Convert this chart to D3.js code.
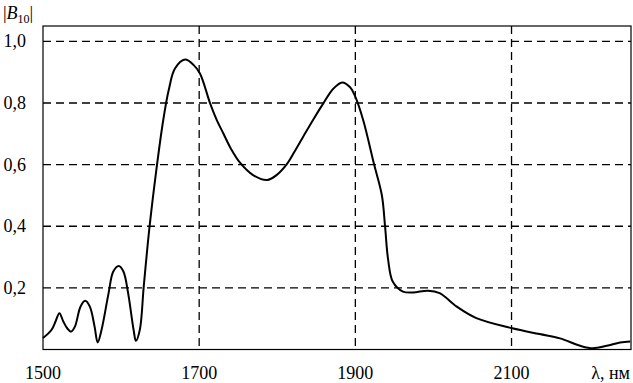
<!DOCTYPE html>
<html><head><meta charset="utf-8">
<script src="https://cdn.jsdelivr.net/npm/d3@7"></script>
<style>
html,body{margin:0;padding:0;background:#fff;}
</style></head>
<body>
<svg id="c" width="633" height="383"></svg>
<script>
const wavelength = [1500,1511,1516,1521,1526,1531,1536,1541,1548,1554,1560,1566,1570,1575,1584,1590,1597,1603,1609,1616,1619,1624,1629,1636,1645,1654,1661,1669,1682,1693,1701,1714,1722,1731,1741,1752,1769,1787,1799,1812,1822,1833,1846,1859,1872,1883,1893,1900,1910,1924,1934,1938,1942,1948,1961,1974,1993,2008,2030,2055,2101,2136,2162,2188,2204,2222,2239,2252];
const amplitude  = [0.037,0.064,0.091,0.118,0.091,0.069,0.058,0.075,0.139,0.158,0.139,0.075,0.023,0.064,0.183,0.253,0.271,0.253,0.183,0.064,0.028,0.064,0.204,0.388,0.58,0.745,0.842,0.912,0.941,0.923,0.896,0.799,0.748,0.701,0.650,0.607,0.566,0.550,0.566,0.601,0.642,0.690,0.746,0.799,0.847,0.867,0.852,0.820,0.745,0.601,0.500,0.401,0.291,0.220,0.188,0.185,0.191,0.183,0.139,0.102,0.069,0.050,0.036,0.012,0.004,0.012,0.023,0.026];
const xTicks = [1500,1700,1900,2100];
const xTickLabels = ["1500","1700","1900","2100"];
const yTicks = [0.2,0.4,0.6,0.8,1.0];
const yTickLabels = ["0,2","0,4","0,6","0,8","1,0"];
const xGrid = [1700,1900,2100];
const FONT = '"Liberation Serif"';

const svg = d3.select("#c");
const L=43, R=631, T=26, B=349.5;
const x = d3.scaleLinear().domain([1500,2253]).range([L,R]);
const y = d3.scaleLinear().domain([0,1.05]).range([B,T]);

svg.append("g").selectAll("line").data(yTicks).join("line")
  .attr("x1",L).attr("x2",R).attr("y1",d=>y(d)).attr("y2",d=>y(d))
  .attr("stroke","#000").attr("stroke-width",1.3).attr("stroke-dasharray","8,5");
svg.append("g").selectAll("line").data(xGrid).join("line")
  .attr("x1",d=>x(d)).attr("x2",d=>x(d)).attr("y1",T).attr("y2",B)
  .attr("stroke","#000").attr("stroke-width",1.3).attr("stroke-dasharray","8,5");

svg.append("rect").attr("x",L).attr("y",T).attr("width",R-L).attr("height",B-T)
  .attr("fill","none").attr("stroke","#000").attr("stroke-width",1.2);

const pts = wavelength.map((w,i)=>[w,amplitude[i]]);
svg.append("path").datum(pts)
  .attr("d", d3.line().x(d=>x(d[0])).y(d=>y(d[1])).curve(d3.curveCatmullRom.alpha(0.5)))
  .attr("fill","none").attr("stroke","#000").attr("stroke-width",2);

svg.append("g").selectAll("text").data(yTicks).join("text")
  .attr("x",26).attr("y",d=>y(d)+6).attr("text-anchor","end")
  .attr("font-size",18).style("font-family",FONT).text((d,i)=>yTickLabels[i]);

svg.append("g").selectAll("text").data(xTicks).join("text")
  .attr("x",d=>x(d)).attr("y",379).attr("text-anchor","middle")
  .attr("font-size",18).style("font-family",FONT).text((d,i)=>xTickLabels[i]);

svg.append("text").attr("x",630).attr("y",379).attr("text-anchor","end")
  .attr("font-size",18).style("font-family",FONT).text("λ, нм");

const t = svg.append("text").attr("x",3).attr("y",19).attr("font-size",18).style("font-family",FONT);
t.append("tspan").text("|");
t.append("tspan").attr("font-style","italic").text("B");
t.append("tspan").attr("font-size",12).attr("dy",4).text("10");
t.append("tspan").attr("dy",-4).text("|");
</script>
</body></html>
